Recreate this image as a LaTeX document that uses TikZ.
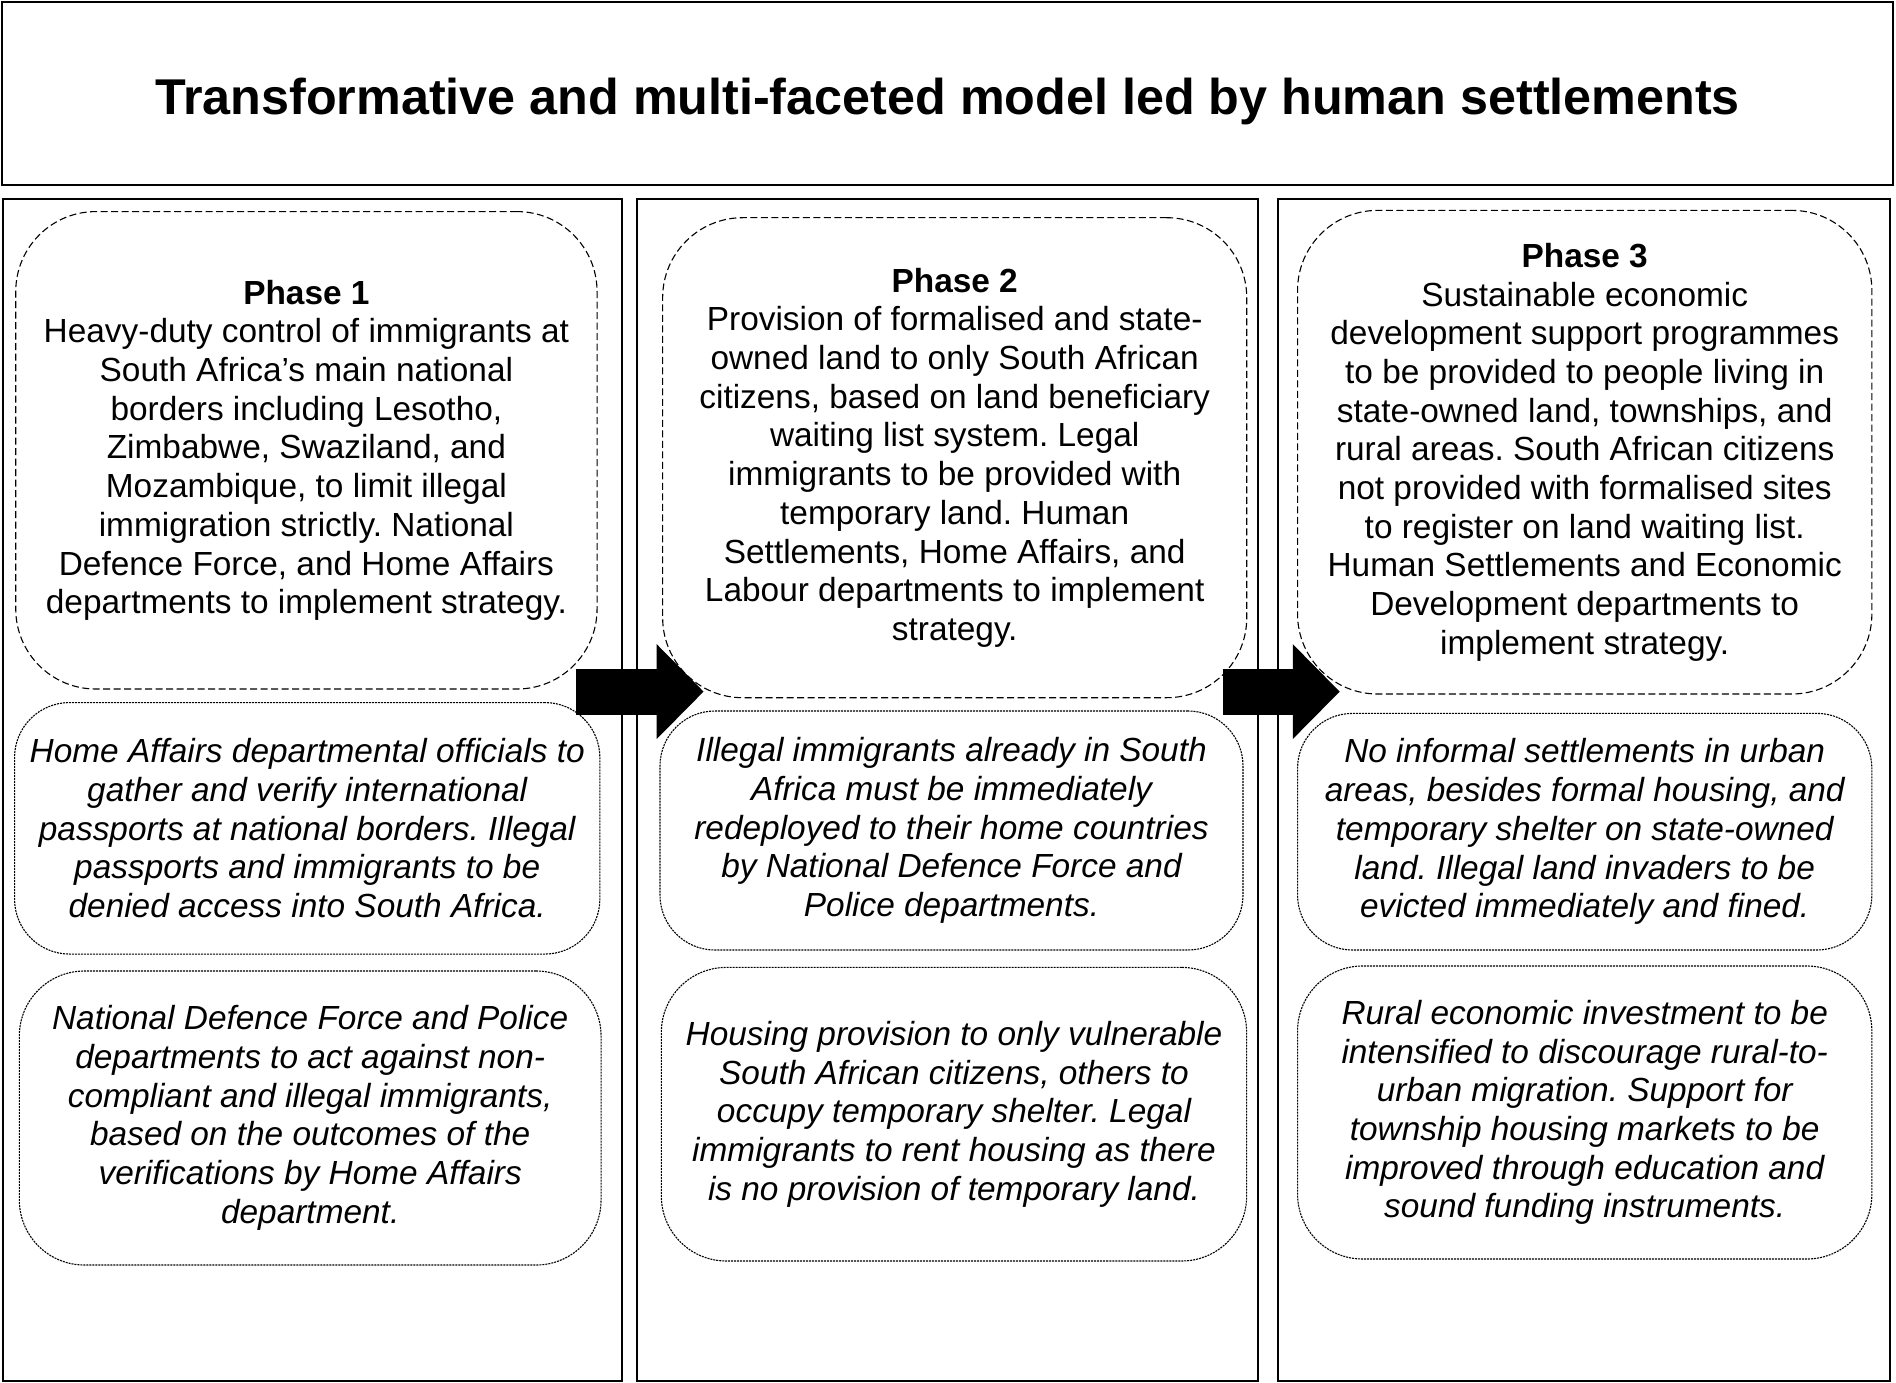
\documentclass[tikz,border=0pt]{standalone}
\usepackage{fontspec}
\setmainfont{Liberation Sans}
\usetikzlibrary{arrows.meta}
\newcommand\mybody{\fontsize{33.4}{38.7}\selectfont\frenchspacing}
\begin{document}
\begin{tikzpicture}[x=1pt,y=-1pt,
  frame/.style={draw, line width=2pt, inner sep=0pt},
  phasebox/.style={draw, line width=1.1pt, dash pattern=on 7pt off 3.5pt, rounded corners=80pt, inner sep=0pt, align=center, font=\mybody},
  subbox/.style={draw, line width=1.1pt, dash pattern=on 2pt off 1pt, rounded corners=55pt, inner sep=0pt, align=center, font=\mybody\itshape},
  bigarrow/.style={line width=46pt, -{Triangle[length=47pt, width=92pt]}}
]
\useasboundingbox[fill=white] (0,0) rectangle (1896,1383);

\node[frame, minimum width=1891pt, minimum height=183pt] (title) at (947.5,93.5) {};
\node[font=\fontsize{50.3}{58}\selectfont\bfseries, inner sep=0pt] (titletext) at (947.5,101) {Transformative and multi-faceted model led by human settlements};

\node[frame, minimum width=619pt, minimum height=1181.5pt] (col1) at (312,790) {};
\node[frame, minimum width=620.6pt, minimum height=1181.5pt] (col2) at (947.3,790) {};
\node[frame, minimum width=612pt, minimum height=1181.5pt] (col3) at (1584,790) {};

\node[phasebox, minimum width=581.3pt, minimum height=477.4pt] (p1) at (306.4,450.3) {\textbf{Phase 1}\\Heavy-duty control of immigrants at\\South Africa’s main national\\borders including Lesotho,\\Zimbabwe, Swaziland, and\\Mozambique, to limit illegal\\immigration strictly. National\\Defence Force, and Home Affairs\\departments to implement strategy.};
\node[subbox, minimum width=585.3pt, minimum height=251.5pt] (p1b) at (307.2,828.3) {Home Affairs departmental officials to\\gather and verify international\\passports at national borders. Illegal\\passports and immigrants to be\\denied access into South Africa.};
\node[subbox, minimum width=581.7pt, minimum height=294pt, rounded corners=65pt] (p1c) at (310.2,1118) {National Defence Force and Police\\departments to act against non-\\compliant and illegal immigrants,\\based on the outcomes of the\\verifications by Home Affairs\\department.};

\node[phasebox, minimum width=584.1pt, minimum height=480pt] (p2) at (954.7,457.7) {\textbf{Phase 2}\\Provision of formalised and state-\\owned land to only South African\\citizens, based on land beneficiary\\waiting list system. Legal\\immigrants to be provided with\\temporary land. Human\\Settlements, Home Affairs, and\\Labour departments to implement\\strategy.};
\node[subbox, minimum width=583pt, minimum height=239pt] (p2b) at (951.5,830.5) {Illegal immigrants already in South\\Africa must be immediately\\redeployed to their home countries\\by National Defence Force and\\Police departments.};
\node[subbox, minimum width=585.3pt, minimum height=293.6pt, rounded corners=65pt] (p2c) at (954,1114.2) {Housing provision to only vulnerable\\South African citizens, others to\\occupy temporary shelter. Legal\\immigrants to rent housing as there\\is no provision of temporary land.};

\node[phasebox, minimum width=574.3pt, minimum height=483.6pt] (p3) at (1584.7,452.2) {\textbf{Phase 3}\\Sustainable economic\\development support programmes\\to be provided to people living in\\state-owned land, townships, and\\rural areas. South African citizens\\not provided with formalised sites\\to register on land waiting list.\\Human Settlements and Economic\\Development departments to\\implement strategy.};
\node[subbox, minimum width=574.3pt, minimum height=236.6pt] (p3b) at (1584.7,831.7) {No informal settlements in urban\\areas, besides formal housing, and\\temporary shelter on state-owned\\land. Illegal land invaders to be\\evicted immediately and fined.};
\node[subbox, minimum width=574.3pt, minimum height=293pt, rounded corners=65pt] (p3c) at (1584.7,1112.5) {Rural economic investment to be\\intensified to discourage rural-to-\\urban migration. Support for\\township housing markets to be\\improved through education and\\sound funding instruments.};

\coordinate (a1s) at (575.6,691.6);
\coordinate (a1t) at (703.7,691.6);
\coordinate (a2s) at (1222.5,691.6);
\coordinate (a2t) at (1339.8,691.6);
\draw[bigarrow] (a1s) -- (a1t);
\draw[bigarrow] (a2s) -- (a2t);
\end{tikzpicture}
\end{document}
